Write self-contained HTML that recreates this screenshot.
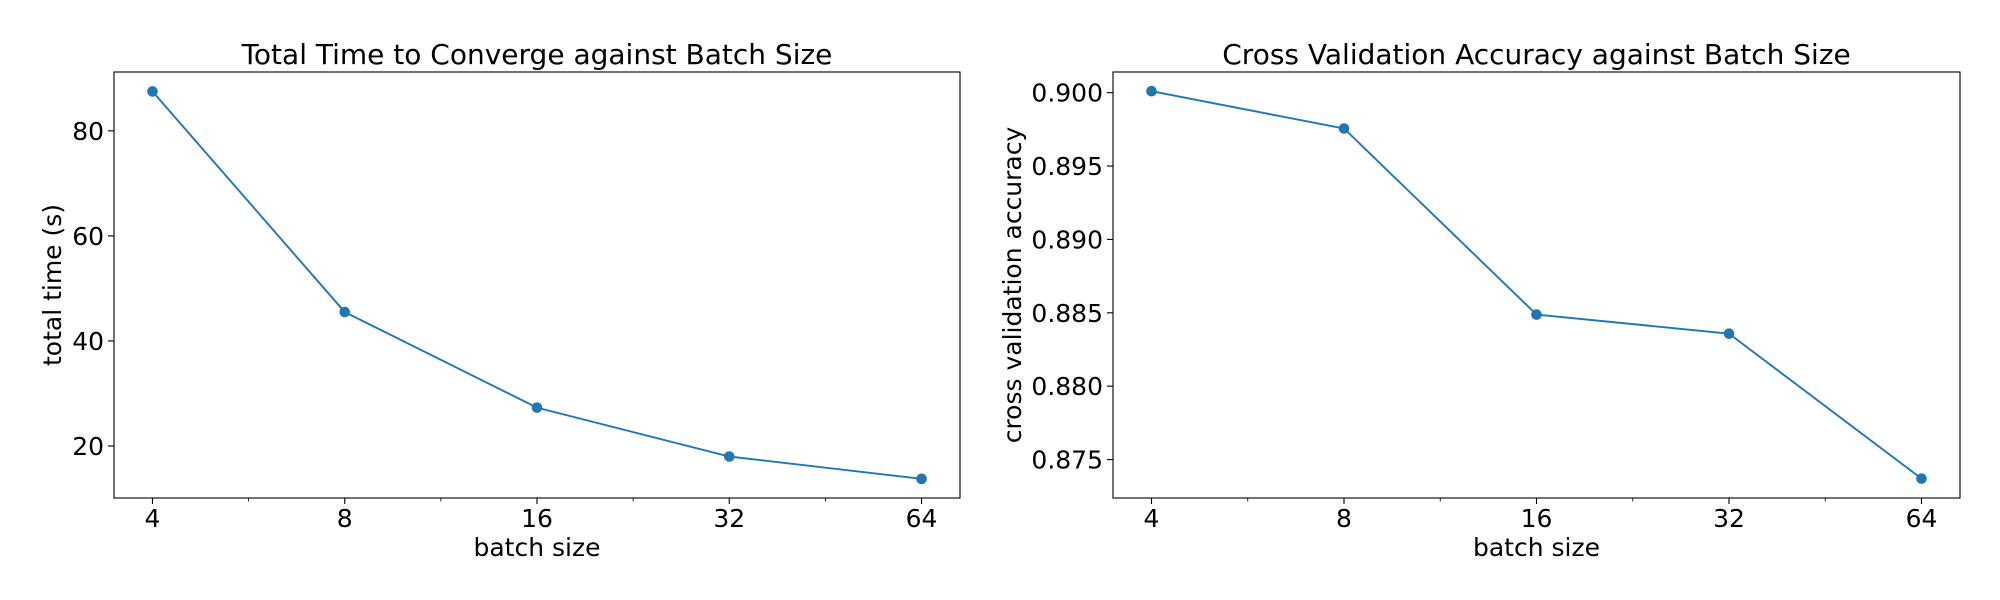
<!DOCTYPE html>
<html><head><meta charset="utf-8"><style>
body{margin:0;background:#fff;}
svg{display:block;font-family:"DejaVu Sans","Liberation Sans",sans-serif;}
</style></head><body>
<svg id="fig" width="2000" height="600" xmlns="http://www.w3.org/2000/svg"></svg>
<script>
const batchSizes = [4, 8, 16, 32, 64];
const timeValues = [87.5, 45.5, 27.3, 18.0, 13.75];
const accValues = [0.9001, 0.89756, 0.88488, 0.88358, 0.8737];
const timeTicks = [20, 40, 60, 80];
const accTicks = [0.875, 0.880, 0.885, 0.890, 0.895, 0.900];
const timeTickLabels = ["20", "40", "60", "80"];
const accTickLabels = ["0.875", "0.880", "0.885", "0.890", "0.895", "0.900"];

const NS = "http://www.w3.org/2000/svg";
const svg = document.getElementById('fig');
function mk(tag, attrs, parent){const e=document.createElementNS(NS,tag);for(const k in attrs)e.setAttribute(k,attrs[k]);(parent||svg).appendChild(e);return e;}

function panel(o){
  const g = mk('g',{});
  
  
  const L=o.x0,R=o.x1,T=72,B=498;
  const lx0=Math.log2(4), lx1=Math.log2(64);
  const pad=(lx1-lx0)*0.05;
  const xs=v=>L+(Math.log2(v)-(lx0-pad))/((lx1+pad)-(lx0-pad))*(R-L);
  const ys=v=>B-(v-o.ymin)/(o.ymax-o.ymin)*(B-T);
  batchSizes.forEach((b)=>{
    const x=xs(b);
    const t=mk('line',{x1:x,x2:x,y1:B,y2:B+6,stroke:'#000','stroke-width':1.1},g);
    
    
    const tx=mk('text',{x:x,y:527,'font-size':25,'text-anchor':'middle'},g);
    tx.textContent=String(b);
    
    
  });
  for(let i=0;i<batchSizes.length-1;i++){
    const x=xs(Math.sqrt(batchSizes[i]*batchSizes[i+1]));
    const t=mk('line',{x1:x,x2:x,y1:B,y2:B+3.5,stroke:'#000','stroke-width':0.8},g);
    
    
  }
  o.ticks.forEach((v,i)=>{
    const y=ys(v);
    const t=mk('line',{x1:L-6,x2:L,y1:y,y2:y,stroke:'#000','stroke-width':1.1},g);
    
    
    const tx=mk('text',{x:L-10,y:y+9,'font-size':25,'text-anchor':'end'},g);
    tx.textContent=o.labels[i];
    
    
  });
  const pts=batchSizes.map((b,i)=>xs(b)+','+ys(o.vals[i])).join(' ');
  const pl=mk('polyline',{points:pts,fill:'none',stroke:'#1f77b4','stroke-width':1.9},g);
  
  
  batchSizes.forEach((b,i)=>{
    const c=mk('circle',{cx:xs(b),cy:ys(o.vals[i]),r:5.3,fill:'#1f77b4'},g);
    
    
  });
  const fr=mk('rect',{x:L,y:T,width:R-L,height:B-T,fill:'none',stroke:'#000','stroke-width':1.1},g);
  
  
  const ti=mk('text',{x:(L+R)/2,y:64,'font-size':28,'text-anchor':'middle'},g);
  ti.textContent=o.title;
  
  
  const xl=mk('text',{x:(L+R)/2,y:556,'font-size':25,'text-anchor':'middle'},g);
  xl.textContent='batch size';
  
  
  const yl=mk('text',{x:0,y:0,'font-size':25,'text-anchor':'middle',transform:`translate(${o.ylx},${(T+B)/2}) rotate(-90)`},g);
  yl.textContent=o.ylabel;
  
  
}
panel({name:'time-chart',x0:114,x1:960,ymin:10.1,ymax:91.2,ticks:timeTicks,labels:timeTickLabels,vals:timeValues,title:'Total Time to Converge against Batch Size',ylabel:'total time (s)',ylx:61});
panel({name:'accuracy-chart',x0:1113,x1:1960,ymin:0.87238,ymax:0.90141,ticks:accTicks,labels:accTickLabels,vals:accValues,title:'Cross Validation Accuracy against Batch Size',ylabel:'cross validation accuracy',ylx:1021});
</script>
</body></html>
